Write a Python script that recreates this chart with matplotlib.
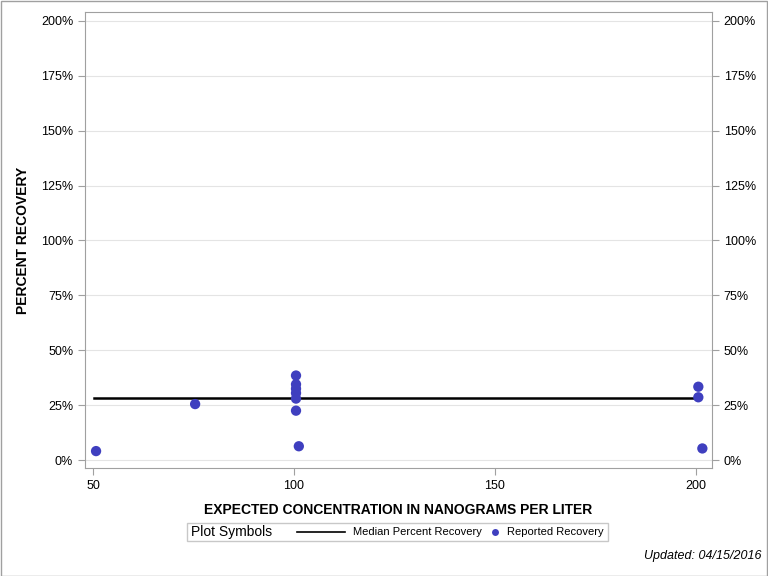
import matplotlib
matplotlib.use("Agg")
import matplotlib.pyplot as plt
from matplotlib.lines import Line2D
from matplotlib.patches import Rectangle
from matplotlib.ticker import FuncFormatter

plt.rcParams['font.family'] = ['Liberation Sans', 'DejaVu Sans']

# Data
expected = [50.75, 75.4, 100.5, 100.5, 100.5, 100.5, 100.5, 100.5, 101.2, 200.6, 200.6, 201.6]
recovery = [4.1, 25.5, 38.5, 34.5, 32.5, 30.5, 28.0, 22.5, 6.3, 33.4, 28.6, 5.3]
median_x = [50.3, 200.6]
median_y = [28.3, 28.3]
x_ticks = [50, 100, 150, 200]
y_ticks = [0, 25, 50, 75, 100, 125, 150, 175, 200]

dot_color = '#3F3FBF'
spine_color = '#A0A0A0'
W, H = 768, 576

fig = plt.figure(figsize=(7.68, 5.76), dpi=100)
ax = fig.add_axes([85 / W, 1 - 468 / H, (712 - 85) / W, (468 - 12) / H])

ax.plot(median_x, median_y, color='black', lw=1.8, zorder=2)
ax.scatter(expected, recovery, s=55, color=dot_color, edgecolors='none', zorder=3)

ax.set_xlim(48.0, 204.0)
ax.set_ylim(-3.6, 204)
ax.set_xticks(x_ticks)
ax.set_yticks(y_ticks)
ax.yaxis.set_major_formatter(FuncFormatter(lambda v, p: f"{int(v)}%"))
ax.grid(axis='y', color='#E4E4E4', lw=0.8, zorder=0)
ax.set_axisbelow(True)
for s in ax.spines.values():
    s.set_color(spine_color)
ax.tick_params(axis='both', colors=spine_color, labelcolor='black', labelsize=9, length=5)
ax.tick_params(axis='y', which='both', left=True, right=True, labelleft=True, labelright=True)

ax.set_xlabel('EXPECTED CONCENTRATION IN NANOGRAMS PER LITER', fontsize=10, fontweight='bold', labelpad=8)
ax.set_ylabel('PERCENT RECOVERY', fontsize=10, fontweight='bold', labelpad=8)

# Figure border
fig.add_artist(Rectangle((0.5 / W, 0.5 / H), 1 - 1.5 / W, 1 - 1.5 / H, transform=fig.transFigure,
                         fill=False, edgecolor='#A0A0A0', lw=1))

# Legend box
lx0, lx1, ly0, ly1 = 187, 608, 523, 541
fig.add_artist(Rectangle((lx0 / W, 1 - ly1 / H), (lx1 - lx0) / W, (ly1 - ly0) / H,
                         transform=fig.transFigure, fill=False, edgecolor='#C8C8C8', lw=1))
ly = 1 - 532 / H
fig.text(191 / W, ly, 'Plot Symbols', fontsize=10, va='center', ha='left')
fig.add_artist(Line2D([297 / W, 345 / W], [ly, ly], transform=fig.transFigure, color='black', lw=1.2))
fig.text(353 / W, ly, 'Median Percent Recovery', fontsize=8, va='center', ha='left')
fig.add_artist(Line2D([495 / W], [ly], transform=fig.transFigure, marker='o', markersize=5,
                      color=dot_color, markeredgecolor='none', linestyle='none'))
fig.text(507 / W, ly, 'Reported Recovery', fontsize=8, va='center', ha='left')

fig.text(762 / W, 1 - 556 / H, 'Updated: 04/15/2016', fontsize=9, style='italic', ha='right', va='center')

fig.savefig('out.png', dpi=100)
